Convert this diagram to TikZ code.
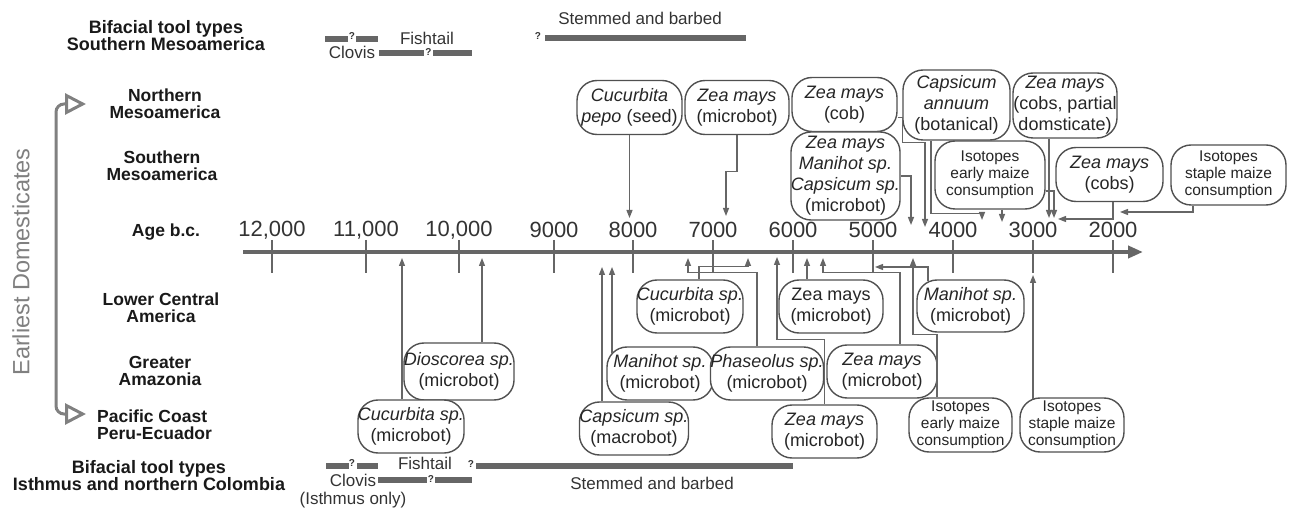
\documentclass[tikz,border=0pt]{standalone}
\usepackage{fontspec}
\setmainfont{Liberation Sans}
\usetikzlibrary{arrows.meta}
\definecolor{linegray}{HTML}{666666}
\definecolor{boxgray}{HTML}{505050}
\definecolor{txtgray}{HTML}{333333}

\begin{document}
\begin{tikzpicture}[x=1pt,y=-1pt,
  box/.style={draw=boxgray,line width=1.4pt,rounded corners=20pt,fill=white,align=center,inner sep=0pt,
    minimum width=105pt,minimum height=54pt,text=black!85,font=\fontsize{18}{21}\selectfont},
  isobox/.style={box,font=\fontsize{15.5}{16.8}\selectfont},
  region/.style={align=center,inner sep=0pt,text=black!90,font=\bfseries\fontsize{17.5}{17}\selectfont},
  bifac/.style={region,font=\bfseries\fontsize{18}{17}\selectfont},
  ticklab/.style={inner sep=0pt,text=txtgray,font=\fontsize{22}{22}\selectfont},
  tooltxt/.style={inner sep=0pt,text=txtgray,font=\fontsize{17}{17}\selectfont},
  qmark/.style={inner sep=0pt,text=txtgray,font=\bfseries\fontsize{10}{10}\selectfont},
  bar/.style={draw=linegray,line width=5.5pt},
  axis/.style={draw=linegray,line width=4pt,-{Triangle[length=15pt,width=12pt]}},
  tick/.style={draw=linegray,line width=2.5pt},
  conn/.style={draw=linegray,line width=1.3pt,-{Triangle[length=8pt,width=6pt]}},
  bracket/.style={draw=gray,line width=3pt,rounded corners=8pt,
    {Triangle[open,length=21pt,width=21pt]}-{Triangle[open,length=21pt,width=21pt]}}]
\useasboundingbox (0,0) rectangle (1290,510);

% regions
\node[bifac]  (bifs)  at (166,36)  {Bifacial tool types\\Southern Mesoamerica};
\node[region] (nmeso) at (165,104) {Northern\\Mesoamerica};
\node[region] (smeso) at (162,166) {Southern\\Mesoamerica};
\node[region] (agebc) at (166,232) {Age b.c.};
\node[region] (lca)   at (161,308) {Lower Central\\America};
\node[region] (amaz)  at (160,371) {Greater\\Amazonia};
\node[region,align=left,anchor=west] (pacif) at (97,425) {Pacific Coast\\Peru-Ecuador};
\node[bifac]  (bifi)  at (149,476) {Bifacial tool types\\Isthmus and northern Colombia};
\node[rotate=90,inner sep=0pt,text=gray,font=\fontsize{23.5}{24}\selectfont] (earliest) at (21,262) {Earliest Domesticates};
\coordinate (brtop) at (86,104);
\coordinate (brbot) at (86,414);
\draw[bracket] (brtop) -- (56,104) -- (56,414) -- (brbot);

% time axis
\coordinate (axstart) at (243,252);
\coordinate (axend)   at (1143,252);
\draw[axis] (axstart) -- (axend);
\foreach \x/\lab in {272/{12,000},366/{11,000},459/{10,000},554/9000,633/8000,713/7000,793/6000,873/5000,953/4000,1033/3000,1113/2000}{
  \draw[tick] (\x,240) -- (\x,273);
  \node[ticklab] (lab\x) at (\x,230) {\lab};
}

% bifacial tools, top
\draw[bar] (325,39) -- (348,39);
\node[qmark] (qs1) at (352,36) {?};
\draw[bar] (356,39) -- (378,39);
\node[tooltxt] (clovs) at (352,52) {Clovis};
\draw[bar] (379,53) -- (424,53);
\node[qmark] (qs2) at (428.5,52) {?};
\draw[bar] (433,53) -- (472,53);
\node[tooltxt] (fishs) at (427,38) {Fishtail};
\node[qmark] (qs3) at (538,36) {?};
\draw[bar] (545,38) -- (746,38);
\node[tooltxt] (stems) at (640,18) {Stemmed and barbed};

% bifacial tools, bottom
\draw[bar] (326,466) -- (349,466);
\node[qmark] (qi1) at (352,463) {?};
\draw[bar] (357,466) -- (378,466);
\node[tooltxt] (clovi) at (353,480) {Clovis};
\draw[bar] (378,480) -- (427,480);
\node[qmark] (qi2) at (431,479) {?};
\draw[bar] (435,480) -- (472,480);
\node[tooltxt] (fishi) at (425,463) {Fishtail};
\node[qmark] (qi3) at (471,464) {?};
\draw[bar] (476,466) -- (793,466);
\node[tooltxt] (stemi) at (652,483) {Stemmed and barbed};
\node[tooltxt] (isthm) at (353,500) {(Isthmus only)};

% finds above the axis
\node[box] (pepo)  at (629.5,107.5) {\textit{Cucurbita}\\\textit{pepo} (seed)};
\node[box,minimum width=104pt] (zea1) at (737,107.5) {\textit{Zea mays}\\(microbot)};
\node[box] (cob)   at (844.5,104.5) {\textit{Zea mays}\\(cob)};
\node[box,minimum width=107pt,minimum height=88pt] (combo) at (845.5,176) {\textit{Zea mays}\\\textit{Manihot sp.}\\\textit{Capsicum sp.}\\(microbot)};
\node[box,minimum width=107pt,minimum height=70pt] (annuum) at (956.5,105) {\textit{Capsicum}\\\textit{annuum}\\(botanical)};
\node[box,minimum width=104pt,minimum height=65pt] (domst) at (1065,105.5) {\textit{Zea mays}\\(cobs, partial\\domsticate)};
\node[isobox,minimum width=110pt,minimum height=68pt] (isoearly) at (990,175) {Isotopes\\early maize\\consumption};
\node[box,minimum width=107pt] (cobs) at (1109.5,174.5) {\textit{Zea mays}\\(cobs)};
\node[isobox,minimum width=115pt,minimum height=60pt] (staple) at (1228.5,175) {Isotopes\\staple maize\\consumption};

\coordinate (tpepo)   at (629.5,218);
\coordinate (tzea1)   at (726,216);
\coordinate (tcob)    at (925,227);
\coordinate (tcombo)  at (911,225);
\coordinate (tannuum) at (982,220);
\coordinate (tiso1)   at (1002,222);
\coordinate (tdomst)  at (1049,218);
\coordinate (tiso2)   at (1054,218);
\coordinate (tcobs)   at (1058,219);
\coordinate (tstaple) at (1120,212);

\draw[conn] (pepo.south) -- (tpepo);
\draw[conn] (zea1.south) -- ++(0,36) -| (tzea1);
\draw[conn] ([yshift=-13pt]cob.east) -- ++(5,0) -- ++(0,25) -| (tcob);
\draw[conn] (combo.east) -| (tcombo);
\draw[conn] ([xshift=-25.5pt]annuum.south) -- ++(0,73) -| (tannuum);
\draw[conn] ([xshift=12pt]isoearly.south) -- (tiso1);
\draw[conn] ([xshift=-16pt]domst.south) -- (tdomst);
\draw[conn] ([yshift=-16pt]isoearly.east) -| (tiso2);
\draw[conn] ([xshift=3.5pt]cobs.south) |- (tcobs);
\draw[conn] ([xshift=-35.5pt]staple.south) |- (tstaple);

% finds below the axis
\node[box,minimum width=106pt,minimum height=53pt] (cuclca) at (690,306.5) {\textit{Cucurbita sp.}\\(microbot)};
\node[box,minimum width=104pt,minimum height=53pt] (zealca) at (831,306.5) {Zea mays\\(microbot)};
\node[box,minimum width=107pt,minimum height=52pt] (manlca) at (970.5,306) {\textit{Manihot sp.}\\(microbot)};
\node[box,minimum width=104pt,minimum height=57pt] (dios)   at (459,371.5) {\textit{Dioscorea sp.}\\(microbot)};
\node[box,minimum width=106pt,minimum height=53pt] (manga)  at (660,373.5) {\textit{Manihot sp.}\\(microbot)};
\node[box,minimum width=110pt,minimum height=53pt] (phas)   at (767,373.5) {\textit{Phaseolus sp.}\\(microbot)};
\node[box,minimum width=110pt,minimum height=53pt] (zeaga)  at (882,371.5) {\textit{Zea mays}\\(microbot)};
\node[box,minimum width=103pt,minimum height=53pt] (cucpc)  at (411,426.5) {\textit{Cucurbita sp.}\\(microbot)};
\node[box,minimum width=108pt,minimum height=53pt] (capspc) at (634,428.5) {\textit{Capsicum sp.}\\(macrobot)};
\node[box,minimum width=105pt,minimum height=53pt] (zeapc)  at (824.5,431.5) {\textit{Zea mays}\\(microbot)};
\node[isobox,minimum width=103pt,minimum height=54pt] (isopc)  at (960.5,425) {Isotopes\\early maize\\consumption};
\node[isobox,minimum width=104pt,minimum height=54pt] (stappc) at (1072,425) {Isotopes\\staple maize\\consumption};

\coordinate (tcucpc)  at (402,258);
\coordinate (tdios)   at (482,258);
\coordinate (tcapspc) at (602,267);
\coordinate (tmanga)  at (612,267);
\coordinate (tphas)   at (688,258);
\coordinate (tcuclca) at (748,258);
\coordinate (tzeapc)  at (777,257);
\coordinate (tzealca) at (807,258);
\coordinate (tzeaga)  at (823,258);
\coordinate (tmanlca) at (875,267);
\coordinate (tisopc)  at (913,258);
\coordinate (tstappc) at (1033,275);

\draw[conn] ([xshift=-9pt]cucpc.north) -- (tcucpc);
\draw[conn] ([xshift=23pt]dios.north) -- (tdios);
\draw[conn] ([xshift=-32pt]capspc.north) -- (tcapspc);
\draw[conn] ([xshift=-48pt,yshift=-7pt]manga.north) -- (tmanga);
\draw[conn] ([xshift=-10pt]phas.north) -- ++(0,-74) -| (tphas);
\draw[conn] ([xshift=9pt]cuclca.north) -- ++(0,-13) -| (tcuclca);
\draw[conn] (zeapc.north) -- ++(0,-65) -| (tzeapc);
\draw[conn] ([xshift=-24pt]zealca.north) -- (tzealca);
\draw[conn] ([xshift=18pt]zeaga.north) -- ++(0,-72) -| (tzeaga);
\draw[conn] ([xshift=-42.5pt,yshift=-2pt]manlca.north) |- (tmanlca);
\draw[conn] ([xshift=-23.5pt]isopc.north) -- ++(0,-63) -| (tisopc);
\draw[conn] ([xshift=-39pt,yshift=-2pt]stappc.north) -- (tstappc);
\end{tikzpicture}
\end{document}
